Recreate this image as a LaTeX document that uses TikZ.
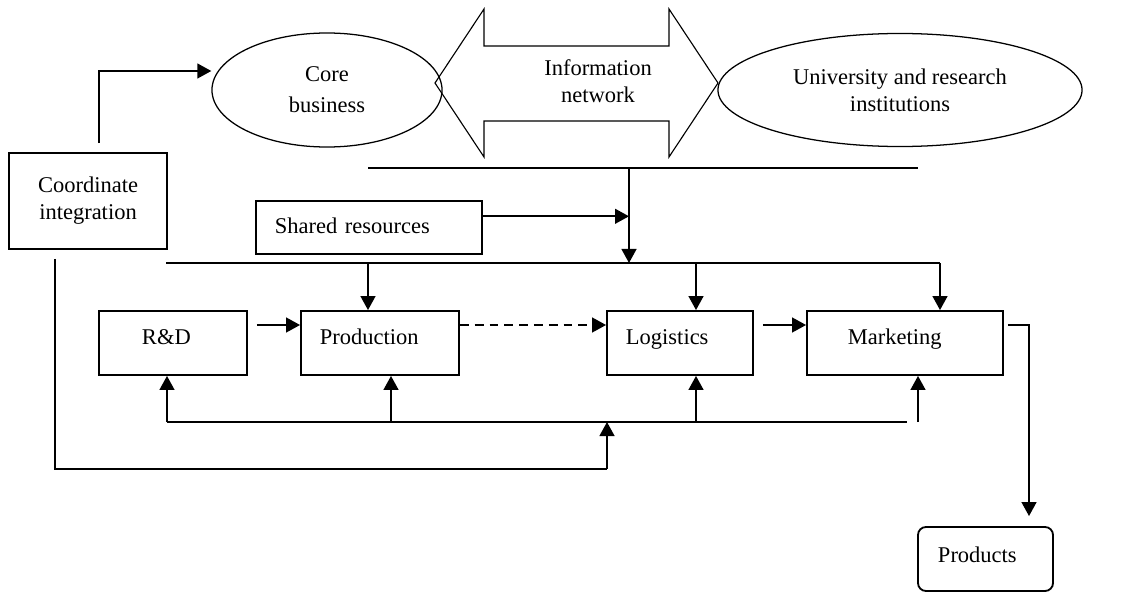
\documentclass[tikz,border=0pt]{standalone}
\usepackage{fontspec}
\setmainfont{Liberation Serif}
\usepackage{tikz}
\usetikzlibrary{arrows.meta, shapes.geometric}

\begin{document}
\begin{tikzpicture}[
    x=0.025cm, y=-0.025cm,
    every node/.style={font=\fontsize{16}{19.2}\selectfont},
    box/.style={draw, line width=1.3pt, rectangle, inner ysep=0pt,
                align=left},
    oval/.style={draw, line width=0.9pt, ellipse, inner sep=0pt,
                 align=center},
    arr/.style={line width=1.4pt, -{Triangle[length=0.35cm, width=0.37cm]}},
    bus/.style={line width=1pt}
]
\useasboundingbox (0,0) rectangle (1125,592);

% -------- Top row: partners and information network ---------
\node[oval, minimum width=5.75cm, minimum height=2.85cm] (core)
    at (327,90) {Core\\[0.1cm]business};
\node[oval, minimum width=9.1cm, minimum height=2.825cm] (uni)
    at (900,90) {University and research\\institutions};
% Double arrow outline (drawn directly)
\draw[line width=0.8pt, line join=miter]
    (435,83) -- (484,9) -- (484,46) -- (669,46) -- (669,9) -- (718,83)
    -- (669,157) -- (669,121) -- (484,121) -- (484,157) -- cycle;
\node[align=center] (info) at (598,81) {Information\\network};

% -------- Coordinate integration and shared resources -------
\node[draw, line width=1.3pt, align=center,
      minimum width=3.95cm, minimum height=2.4cm] (ci)
    at (88,201) {Coordinate\\integration};
\node[box, inner xsep=0.475cm, text width=4.7cm,
      text height=0.8cm, text depth=0.525cm] (sr)
    at (369,227.5) {Shared resources};

% -------- Value chain ---------------------------------------
\node[box, inner xsep=1.075cm, text width=1.55cm,
      text height=0.825cm, text depth=0.775cm] (rd)
    at (173,343) {R\&D};
\node[box, inner xsep=0.475cm, text width=3.0cm,
      text height=0.825cm, text depth=0.775cm] (prod)
    at (380,343) {Production};
\node[box, inner xsep=0.475cm, text width=2.7cm,
      text height=0.825cm, text depth=0.775cm] (log)
    at (680,343) {Logistics};
\node[box, inner xsep=1.025cm, text width=2.85cm,
      text height=0.825cm, text depth=0.775cm] (mkt)
    at (905,343) {Marketing};
\node[box, rounded corners=0.2cm, inner xsep=0.5cm, text width=2.375cm,
      text height=0.875cm, text depth=0.725cm] (prd)
    at (985.5,559) {Products};

% -------- Bus lines -----------------------------------------
\coordinate (tl) at (368,168);
\coordinate (tr) at (918,168);
\coordinate (tj) at (629,168);
\coordinate (bl) at (166,263);
\coordinate (br) at (940,263);
\coordinate (fl) at (167,422);
\coordinate (fr) at (907,422);
\coordinate (fj) at (607,422);
\coordinate (lj) at (607,469);
\coordinate (srout) at ([yshift=0.28cm]sr.east);
\draw[bus] (tl) -- (tr);
\draw[bus] (bl) -- (br);
\draw[bus] (fl) -- (fr);

% -------- Connectors ----------------------------------------
\draw[arr] ([xshift=0.275cm, yshift=0.225cm]ci.north)
    |- ([yshift=0.475cm]core.west);
\draw[arr] (tj) -- (tj |- bl);
\draw[arr] (srout) -- (srout -| tj);
% drops from the bus into the chain
\draw[arr] ([xshift=-0.3cm]prod.north |- bl) -- ([xshift=-0.3cm]prod.north);
\draw[arr] ([xshift=0.4cm]log.north |- bl) -- ([xshift=0.4cm]log.north);
\draw[arr] (br) -- (br |- mkt.north);
% along the chain
\draw[arr] ([xshift=0.225cm, yshift=0.45cm]rd.east)
    -- ([yshift=0.45cm]prod.west);
\draw[arr, dashed, dash pattern=on 0.22cm off 0.15cm]
    ([yshift=0.45cm]prod.east) -- ([yshift=0.45cm]log.west);
\draw[arr] ([xshift=0.225cm, yshift=0.45cm]log.east)
    -- ([yshift=0.45cm]mkt.west);
\draw[arr] ([xshift=0.1cm, yshift=0.45cm]mkt.east)
    -| ([xshift=1.0875cm, yshift=0.25cm]prd.north);
% feedback into the chain
\draw[arr] (fl) -- (fl |- rd.south);
\draw[arr] ([xshift=0.275cm]prod.south |- fl) -- ([xshift=0.275cm]prod.south);
\draw[arr] ([xshift=0.4cm]log.south |- fl) -- ([xshift=0.4cm]log.south);
\draw[arr] ([xshift=0.325cm]mkt.south |- fr) -- ([xshift=0.325cm]mkt.south);
% coordinate integration loop
\draw[bus] ([xshift=-0.825cm, yshift=-0.225cm]ci.south) |- (lj);
\draw[arr] (lj) -- (fj);

\end{tikzpicture}
\end{document}
